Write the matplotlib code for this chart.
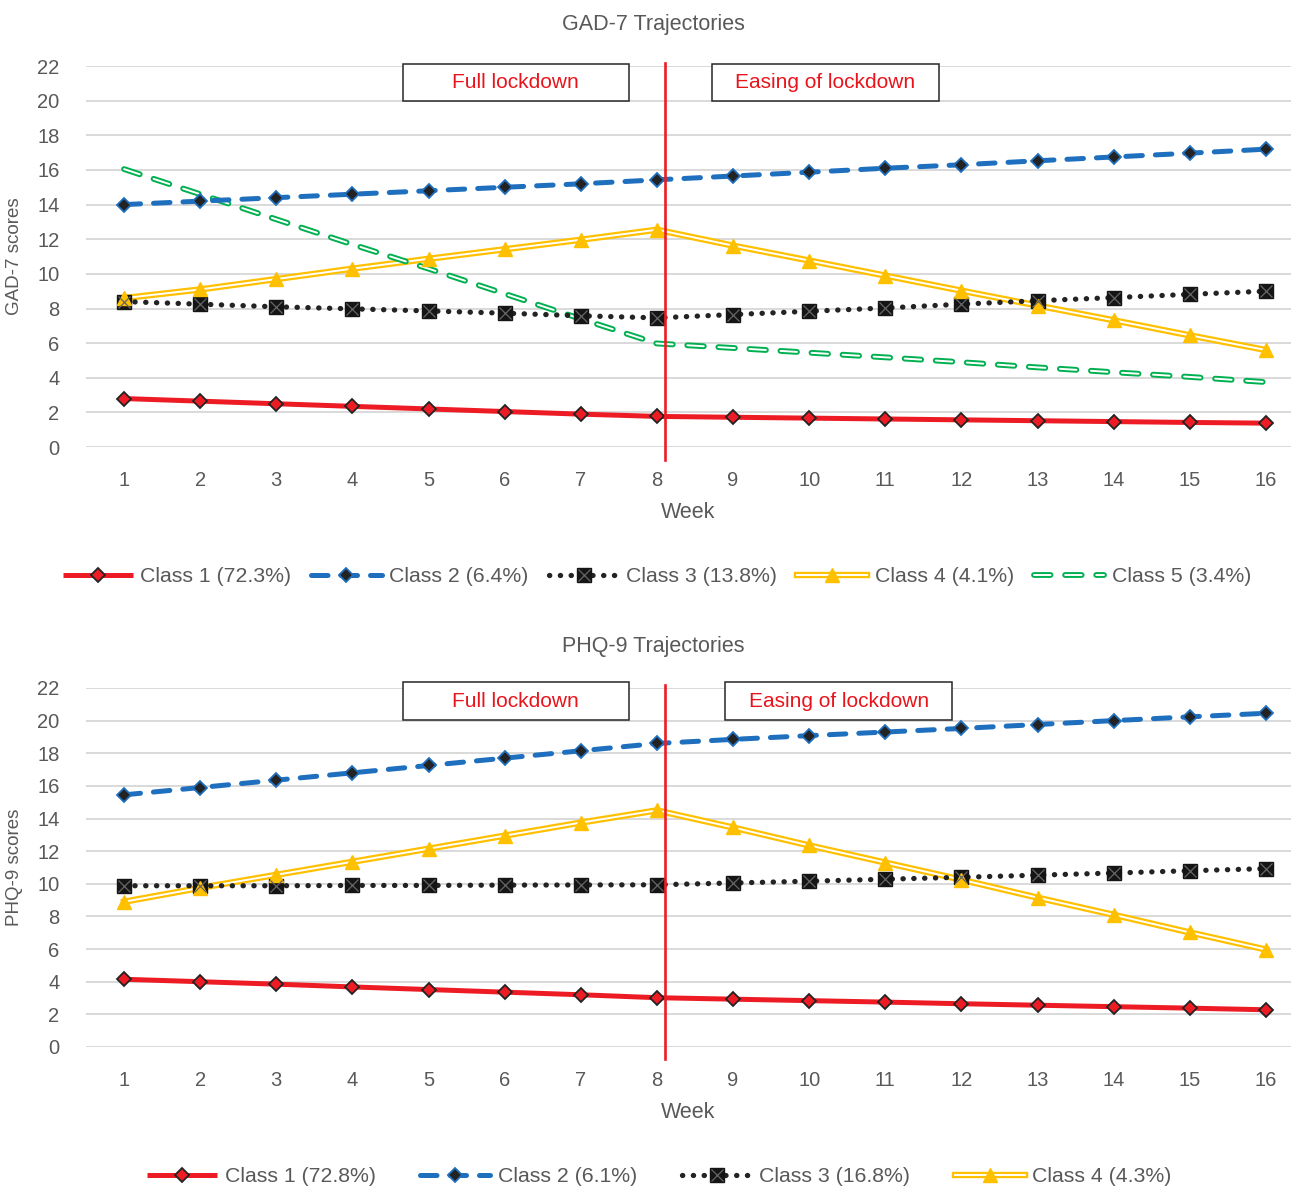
import matplotlib
matplotlib.use("Agg")
import matplotlib.pyplot as plt
import matplotlib.patheffects as pe
from matplotlib.patches import Rectangle
from matplotlib.legend_handler import HandlerTuple

plt.rcParams['font.family'] = ['Liberation Sans', 'DejaVu Sans']

weeks = list(range(1, 17))

# GAD-7 trajectories
gad_labels = ["Class 1 (72.3%)", "Class 2 (6.4%)", "Class 3 (13.8%)", "Class 4 (4.1%)", "Class 5 (3.4%)"]
gad_c1 = [2.8, 2.65, 2.5, 2.35, 2.2, 2.05, 1.9, 1.77, 1.72, 1.67, 1.62, 1.57, 1.52, 1.47, 1.42, 1.38]
gad_c2 = [14.0, 14.2, 14.4, 14.6, 14.8, 15.0, 15.2, 15.43, 15.65, 15.87, 16.1, 16.3, 16.53, 16.75, 16.97, 17.2]
gad_c3 = [8.4, 8.25, 8.1, 7.98, 7.86, 7.73, 7.58, 7.46, 7.65, 7.84, 8.03, 8.25, 8.45, 8.63, 8.82, 9.0]
gad_c4 = [8.6, 9.1, 9.7, 10.3, 10.87, 11.42, 11.97, 12.55, 11.63, 10.77, 9.9, 9.03, 8.17, 7.32, 6.45, 5.6]
gad_c5 = [16.05, 14.6, 13.15, 11.7, 10.3, 8.85, 7.4, 5.98, 5.72, 5.45, 5.18, 4.9, 4.6, 4.32, 4.05, 3.75]

# PHQ-9 trajectories
phq_labels = ["Class 1 (72.8%)", "Class 2 (6.1%)", "Class 3 (16.8%)", "Class 4 (4.3%)"]
phq_c1 = [4.15, 4.0, 3.85, 3.68, 3.52, 3.36, 3.2, 3.02, 2.93, 2.84, 2.75, 2.65, 2.56, 2.47, 2.38, 2.28]
phq_c2 = [15.45, 15.9, 16.35, 16.8, 17.25, 17.7, 18.15, 18.6, 18.85, 19.08, 19.3, 19.52, 19.76, 20.0, 20.23, 20.45]
phq_c3 = [9.88, 9.88, 9.88, 9.9, 9.9, 9.92, 9.93, 9.94, 10.05, 10.16, 10.28, 10.4, 10.53, 10.66, 10.8, 10.93]
phq_c4 = [8.9, 9.75, 10.55, 11.35, 12.15, 12.95, 13.75, 14.5, 13.45, 12.35, 11.3, 10.25, 9.15, 8.1, 7.02, 5.97]

RED = '#ED1C24'
BLUE = '#1F6FBF'
YELLOW = '#FFC000'
GREEN = '#00B050'
DARK = '#232323'
GRAY = '#595959'
FS = 14.5


def draw_panel(ax, title, ylabel, series, labels, lock_x, box_y):
    handles = []
    # class 1
    l1, = ax.plot(weeks, series[0], color=RED, lw=3.6, marker='D', ms=7.5,
                  mfc=RED, mec=DARK, mew=1.3, solid_capstyle='butt', zorder=5)
    handles.append(l1)
    # class 2
    l2, = ax.plot(weeks, series[1], color=BLUE, lw=3.6, ls=(0, (3.3, 2.6)),
                  dash_capstyle='round', marker='D', ms=7.5, mfc=DARK, mec=BLUE,
                  mew=1.3, zorder=4)
    handles.append(l2)
    # class 3
    l3, = ax.plot(weeks, series[2], color=DARK, lw=3.8, ls=(0, (0.05, 2.0)),
                  dash_capstyle='round', zorder=4)
    m3, = ax.plot(weeks, series[2], ls='none', marker='s', ms=9.5, mfc='#151515',
                  mec='#151515', zorder=6)
    m3x, = ax.plot(weeks, series[2], ls='none', marker='x', ms=8, mec='#666666',
                   mew=0.9, zorder=7)
    handles.append((l3, m3, m3x))
    # class 4 (double line)
    l4, = ax.plot(weeks, series[3], color='white', lw=1.4, zorder=3,
                  path_effects=[pe.Stroke(linewidth=4.6, foreground=YELLOW), pe.Normal()])
    m4, = ax.plot(weeks, series[3], ls='none', marker='^', ms=10, mfc=YELLOW,
                  mec=YELLOW, zorder=6)
    handles.append((l4, m4))
    if len(series) > 4:
        l5, = ax.plot(weeks, series[4], color='white', lw=1.4, ls=(0, (8.5, 7.5)),
                      dash_capstyle='round', zorder=3,
                      path_effects=[pe.Stroke(linewidth=4.2, foreground=GREEN), pe.Normal()])
        handles.append(l5)

    ax.set_xlim(0.5, 16.33)
    ax.set_ylim(0, 22)
    ax.set_xticks(weeks)
    ax.set_yticks(range(0, 23, 2))
    ax.grid(axis='y', color='#D9D9D9', lw=1.4)
    ax.set_axisbelow(True)
    for s in ax.spines.values():
        s.set_visible(False)
    ax.tick_params(length=0, labelsize=FS, labelcolor=GRAY)
    ax.tick_params(axis='y', pad=19)
    ax.tick_params(axis='x', pad=17)
    ax.set_xlabel('Week', fontsize=15.5, color=GRAY, labelpad=9)
    ax.set_ylabel(ylabel, fontsize=13.5, color=GRAY, labelpad=10)
    ax.set_title(title, fontsize=15.5, color=GRAY, pad=26, x=0.471)

    # lockdown marker
    ax.plot([lock_x, lock_x], [-0.72, 22.2], color=RED, lw=1.9, clip_on=False, zorder=8)
    for x0, x1, txt in [(4.66, 7.63, 'Full lockdown'), (lock_x + 0.62 + box_y[2], lock_x + 3.6 + box_y[2], 'Easing of lockdown')]:
        ax.add_patch(Rectangle((x0, box_y[0]), x1 - x0, box_y[1] - box_y[0],
                               facecolor='white', edgecolor='#262626', lw=1.1,
                               clip_on=False, zorder=9))
        ax.text((x0 + x1) / 2, (box_y[0] + box_y[1]) / 2, txt, color='#E8141C',
                fontsize=15, ha='center', va='center', zorder=10)
    return handles


fig = plt.figure(figsize=(12.93, 11.88), dpi=100)
ax1 = fig.add_axes([0.0665, 0.6237, 0.932, 0.3207])
ax2 = fig.add_axes([0.0665, 0.1187, 0.932, 0.3022])

h1 = draw_panel(ax1, 'GAD-7 Trajectories', 'GAD-7 scores',
                [gad_c1, gad_c2, gad_c3, gad_c4, gad_c5], gad_labels, 8.1, (19.98, 22.12, 0.0))
h2 = draw_panel(ax2, 'PHQ-9 Trajectories', 'PHQ-9 scores',
                [phq_c1, phq_c2, phq_c3, phq_c4], phq_labels, 8.1, (20.05, 22.35, 0.18))

leg_kw = dict(frameon=False, fontsize=15.3, labelcolor=GRAY, handlelength=3.3,
              handletextpad=0.35,
              handler_map={tuple: HandlerTuple(ndivide=1)})
fig.legend(h1, gad_labels, loc='center', bbox_to_anchor=(0.508, 1 - 577 / 1188), ncol=5,
           columnspacing=0.95, **leg_kw)
fig.legend(h2, phq_labels, loc='center', bbox_to_anchor=(0.51, 1 - 1177 / 1188), ncol=4,
           columnspacing=2.1, **leg_kw)

fig.savefig('out.png', dpi=100)
